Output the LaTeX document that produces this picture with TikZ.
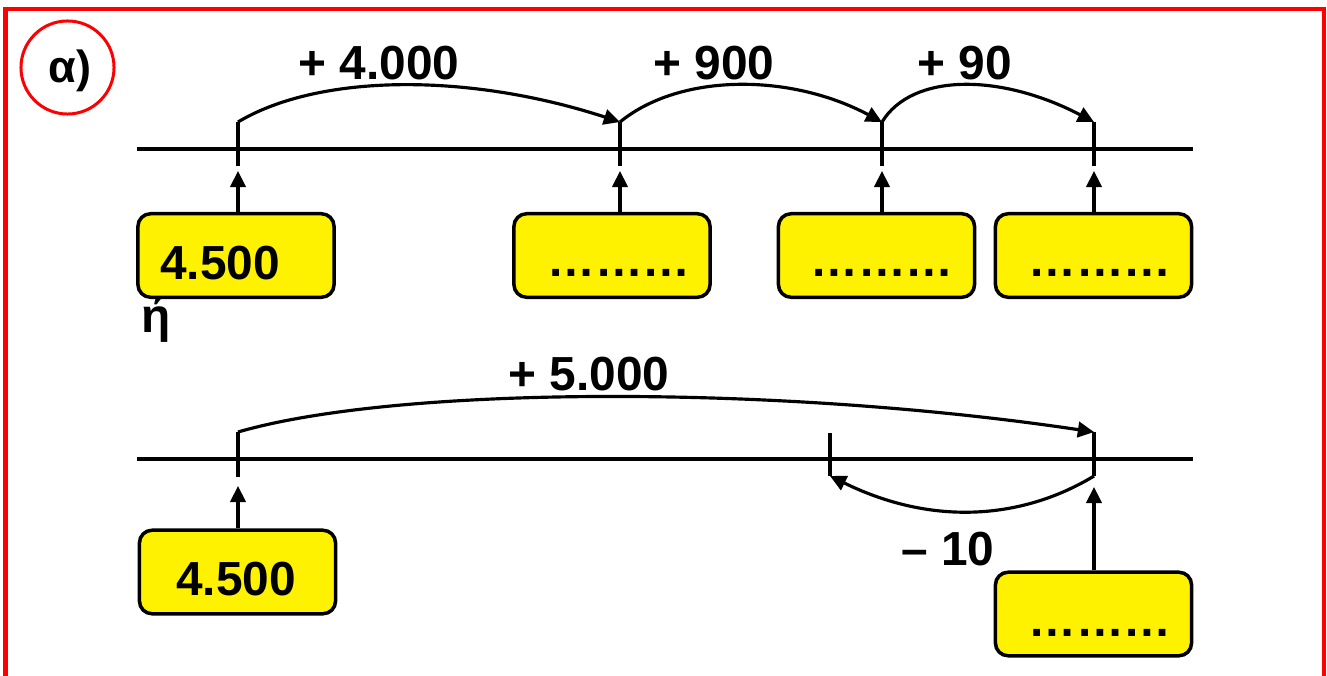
\documentclass[tikz,border=0pt]{standalone}
\usepackage{fontspec}
\setmainfont{Liberation Sans}
\usetikzlibrary{arrows.meta}
\begin{document}
\begin{tikzpicture}[x=0.01cm,y=-0.01cm,
  ln/.style={line width=0.9pt},
  arr/.style={ln,-{Triangle[length=4.6pt,width=4.4pt]}},
  ybox/.style={draw,line width=1pt,fill=yellow,rounded corners=3.6pt,
    minimum width=1.96cm,minimum height=0.835cm,inner sep=0pt},
  lbl/.style={font=\fontsize{13.6}{15}\selectfont\bfseries,inner sep=0pt,anchor=base}]
\useasboundingbox (0,0) rectangle (1327,676);
% frame
\draw[red,line width=1.15pt] (5.5,720) -- (5.5,9) -- (1324,9) -- (1324,720);
\node[draw=red,line width=0.85pt,circle,minimum size=0.93cm,inner sep=0pt] (circ) at (67.5,67.5) {};
\node[lbl,font=\fontsize{12.8}{14}\selectfont\bfseries] (alpha) at (70,83) {α)};
% ---------- top line ----------
\draw[ln] (137,149) -- (1193,149);
\foreach \n/\x in {1/238,2/620,3/882,4/1094}{
  \coordinate (tt\n) at (\x,122);
  \coordinate (tb\n) at (\x,166);
  \coordinate (ta\n) at (\x,171);
  \draw[ln] (tt\n) -- (tb\n);
}
\node[ybox] (b1) at (236,255.5) {};
\node[ybox] (b2) at (612,255.5) {};
\node[ybox] (b3) at (876.5,255.5) {};
\node[ybox] (b4) at (1093.5,255.5) {};
\draw[arr] (b1.north -| ta1) -- (ta1);
\draw[arr] (b2.north -| ta2) -- (ta2);
\draw[arr] (b3.north -| ta3) -- (ta3);
\draw[arr] (b4.north -| ta4) -- (ta4);
\node[lbl] (v1) at (220,280) {4.500};
\node[lbl] (v2) at (619,277) {………};
\node[lbl] (v3) at (882,277) {………};
\node[lbl] (v4) at (1100,277) {………};
\draw[arr] (tt1) .. controls (320,73) and (470,73) .. (tt2);
\draw[arr] (tt2) .. controls (680,73) and (790,73) .. (tt3);
\draw[arr] (tt3) .. controls (912,73) and (1000,73) .. (tt4);
\node[lbl] (l1) at (379,80) {+ 4.000};
\node[lbl] (l2) at (714,80) {+ 900};
\node[lbl] (l3) at (965,80) {+ 90};
\node[lbl] (eta) at (156,333) {ή};
% ---------- bottom line ----------
\draw[ln] (137,459) -- (1193,459);
\coordinate (st1) at (238,432);
\coordinate (sb1) at (238,477);
\coordinate (sa1) at (238,486);
\coordinate (st2) at (830,433);
\coordinate (sb2) at (830,476);
\coordinate (st3) at (1094,432);
\coordinate (sb3) at (1094,476);
\coordinate (sa3) at (1094,487);
\draw[ln] (st1) -- (sb1);
\draw[ln] (st2) -- (sb2);
\draw[ln] (st3) -- (sb3);
\node[ybox] (b5) at (237.5,572) {};
\node[ybox] (b6) at (1093.5,614) {};
\draw[arr] (b5.north -| sa1) -- (sa1);
\draw[arr] (b6.north -| sa3) -- (sa3);
\node[lbl] (v5) at (236,595) {4.500};
\node[lbl] (v6) at (1100,636) {………};
\draw[arr] (st1) .. controls (400,385) and (780,385) .. (st3);
\draw[arr] (sb3) .. controls (1030,515) and (940,530) .. (sb2);
\node[lbl] (l4) at (589,390) {+ 5.000};
\node[lbl] (l5) at (948,565) {– 10};
\end{tikzpicture}
\end{document}
